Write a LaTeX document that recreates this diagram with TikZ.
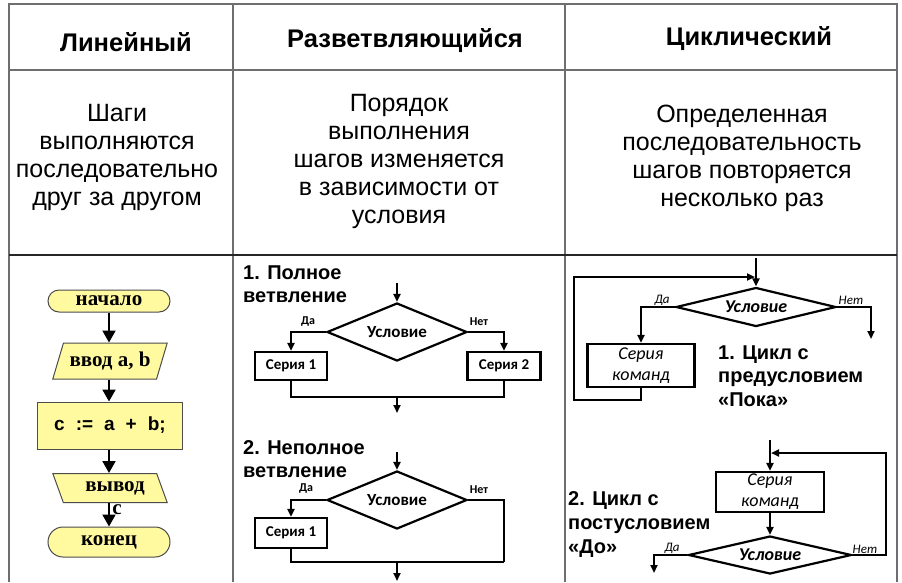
\documentclass[tikz,border=0pt]{standalone}
\usepackage{fontspec}
\setmainfont{Liberation Sans}
\newfontfamily\timesf{Liberation Serif}
\newfontfamily\calf{Carlito}
\usetikzlibrary{arrows.meta,shapes.geometric}
\definecolor{yel}{HTML}{FFF9A0}
\definecolor{tblc}{HTML}{6E6E6E}
\tikzset{
 tbl/.style={draw=tblc, line width=1.3pt},
 hdr/.style={font=\bfseries\fontsize{25.5}{28}\selectfont, inner sep=0pt},
 desc/.style={font=\fontsize{25}{28}\selectfont, align=center, inner sep=0pt},
 yelshape/.style={draw=black!70, line width=1pt, fill=yel, inner sep=0pt},
 term/.style={yelshape, rectangle, minimum width=122pt, font=\timesf\bfseries\fontsize{21}{22}\selectfont},
 io/.style={yelshape, trapezium, trapezium stretches=true, minimum width=115pt, font=\timesf\bfseries\fontsize{21}{22}\selectfont},
 proc/.style={yelshape, rectangle, minimum width=145pt, minimum height=47pt, font=\bfseries\fontsize{19}{22}\selectfont},
 bigarr/.style={draw=black, line width=2pt, -{Triangle[width=13pt,length=12pt]}},
 arr/.style={draw=black, line width=2.2pt, -{Triangle[width=7pt,length=8pt]}},
 ln/.style={draw=black, line width=2.2pt},
 diam/.style={draw=black, line width=2.2pt, diamond, inner sep=0pt},
 box/.style={draw=black, line width=2.2pt, rectangle, inner sep=0pt},
 lbl/.style={font=\bfseries\fontsize{20}{22}\selectfont, inner sep=0pt, anchor=base west},
 yn/.style={font=\calf\bfseries\fontsize{12}{13}\selectfont, inner sep=0pt},
 yni/.style={font=\calf\itshape\fontsize{13}{14}\selectfont, inner sep=0pt},
}
\begin{document}
\begin{tikzpicture}[x=1pt,y=-1pt]
\useasboundingbox (0,0) rectangle (902,582);
\fill[white] (0,0) rectangle (902,582);
% table
\draw[tbl] (9,582) -- (9,4) -- (897,4) -- (897,582);
\draw[tbl] (9,70) -- (897,70);
\draw[tbl] (233,4) -- (233,582);
\draw[tbl] (565,4) -- (565,582);
\draw[draw=black!85, line width=1.8pt] (9,255) -- (897,255);
% headers
\node[hdr] (h1) at (126,42) {Линейный};
\node[hdr] (h2) at (405,41) {Разветвляющийся};
\node[hdr] (h3) at (749,39) {Циклический};
% descriptions
\node[desc] (p1) at (117,157) {Шаги\\выполняются\\последовательно\\друг за другом};
\node[desc] (p2) at (399,161) {Порядок\\выполнения\\шагов изменяется\\в зависимости от\\условия};
\node[desc] (p3) at (742,158) {Определенная\\последовательность\\шагов повторяется\\несколько раз};
% linear flowchart
\node[term, minimum height=22pt, rounded corners=11pt] (start) at (109,301) {начало};
\node[io, minimum height=36pt, trapezium left angle=63, trapezium right angle=117] (in) at (110,361) {ввод a, b};
\node[proc] (calc) at (110,425.5) {c\hspace{11pt}:=\hspace{11pt}a\hspace{11pt}+\hspace{11pt}b;};
\node[io, minimum height=29pt, trapezium left angle=120, trapezium right angle=60] (out) at (110,488) {\hspace*{10pt}вывод};
\node[term, minimum height=30pt, rounded corners=15pt] (stop) at (109,542) {конец};
\draw[bigarr] (start) -- (start |- in.north);
\draw[bigarr] (start |- in.south) -- (start |- calc.north);
\draw[bigarr] (start |- calc.south) -- (start |- out.north);
\draw[bigarr] (start |- out.south) -- (stop);
\node[font=\timesf\bfseries\fontsize{21}{22}\selectfont, inner sep=0pt] (cl) at (117,510) {c};
% full branching
\node[lbl] (b1a) at (243,279) {1. Полное};
\node[lbl] (b1b) at (243,302) {ветвление};
\coordinate (i1) at (397,283);
\node[diam, aspect=2.41, minimum width=140pt, minimum height=58pt, font=\calf\bfseries\fontsize{17}{18}\selectfont] (d1) at (397,332) {Условие};
\node[box, minimum width=72pt, minimum height=28pt, font=\calf\bfseries\fontsize{15}{16}\selectfont] (s1) at (291,366) {Серия 1};
\node[box, minimum width=73pt, minimum height=28pt, font=\calf\bfseries\fontsize{15}{16}\selectfont] (s2) at (504,366) {Серия 2};
\node[yn] (y1) at (308,322) {Да};
\node[yn] (n1) at (479,322) {Нет};
\coordinate (j1) at (397,397);
\coordinate (o1) at (397,413);
\draw[arr] (i1) -- (d1.north);
\draw[arr] (d1.west) -| (s1.north);
\draw[arr] (d1.east) -| (s2.north);
\draw[ln] (s1.south) |- (j1) -| (s2.south);
\draw[arr] (j1) -- (o1);
% partial branching
\node[lbl] (b2a) at (243,454) {2. Неполное};
\node[lbl] (b2b) at (243,477) {ветвление};
\coordinate (i2) at (397,452);
\node[diam, aspect=2.41, minimum width=140pt, minimum height=58pt, font=\calf\bfseries\fontsize{17}{18}\selectfont] (d2) at (397,500) {Условие};
\node[box, minimum width=72pt, minimum height=30pt, font=\calf\bfseries\fontsize{15}{16}\selectfont] (s3) at (291,533) {Серия 1};
\node[yn] (y2) at (306,489) {Да};
\node[yn] (n2) at (479,490) {Нет};
\coordinate (r2) at (504,562);
\coordinate (j2) at (397,562);
\coordinate (o2) at (397,581);
\draw[arr] (i2) -- (d2.north);
\draw[arr] (d2.west) -| (s3.north);
\draw[ln] (d2.east) -| (r2);
\draw[ln] (s3.south) |- (r2);
\draw[arr] (j2) -- (o2);
% while loop
\coordinate (t1) at (756,258);
\node[diam, aspect=4.1, minimum width=160pt, minimum height=39pt, font=\calf\bfseries\itshape\fontsize{18}{19}\selectfont] (d3) at (756,307) {Условие};
\node[box, minimum width=107pt, minimum height=43pt, align=center, font=\calf\itshape\fontsize{18}{21}\selectfont] (k1) at (641,365.5) {Серия\\команд};
\node[yni] (y3) at (662,300) {Да};
\node[yni] (n3) at (851,300) {Нет};
\coordinate (e1) at (871,339);
\coordinate (l1) at (574,400);
\coordinate (m1) at (755,277);
\draw[arr] (t1) -- (d3.north);
\draw[arr] (d3.west) -| (k1.north);
\draw[arr] (d3.east) -| (e1);
\draw[arr] (k1.south) |- (l1) |- (m1);
\node[lbl] (w1) at (718,359) {1. Цикл с};
\node[lbl] (w2) at (718,382) {предусловием};
\node[lbl] (w3) at (718,406) {«Пока»};
% do loop
\coordinate (t2) at (770,440);
\node[box, minimum width=108pt, minimum height=40pt, align=center, font=\calf\itshape\fontsize{18}{21}\selectfont] (k2) at (770,492) {Серия\\команд};
\node[diam, aspect=4.3, minimum width=163pt, minimum height=38pt, font=\calf\bfseries\itshape\fontsize{18}{19}\selectfont] (d4) at (770,555) {Условие};
\node[yni] (y4) at (672,548) {Да};
\node[yni] (n4) at (865,549) {Нет};
\coordinate (e2) at (654,573);
\coordinate (l2) at (886,555);
\coordinate (m2) at (771,453);
\draw[arr] (t2) -- (k2.north);
\draw[arr] (k2.south) -- (d4.north);
\draw[arr] (d4.west) -| (e2);
\draw[arr] (d4.east) -- (l2) |- (m2);
\node[lbl] (u1) at (568,505) {2. Цикл с};
\node[lbl] (u2) at (568,529) {постусловием};
\node[lbl] (u3) at (568,553) {«До»};
\end{tikzpicture}
\end{document}
